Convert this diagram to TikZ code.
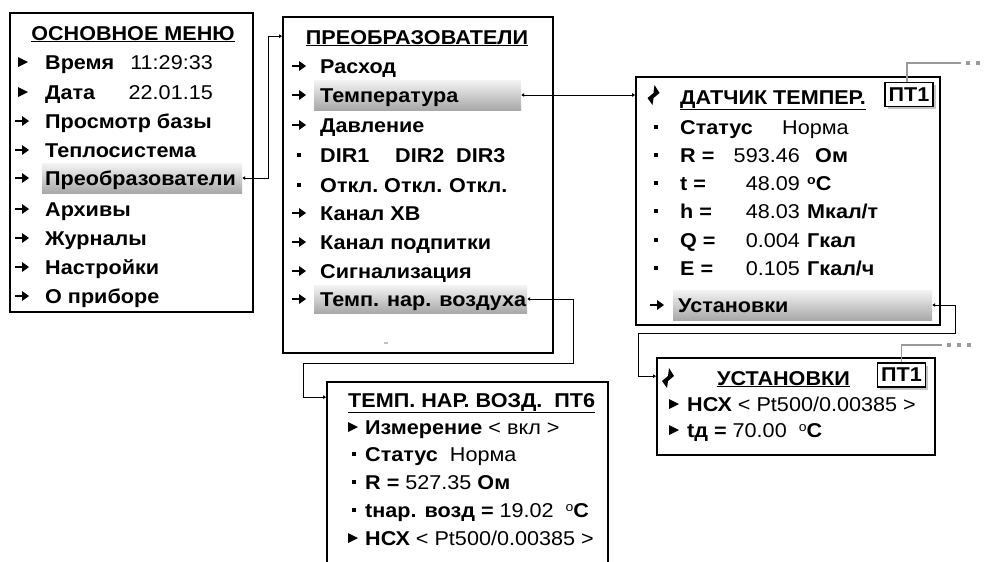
\documentclass[tikz,border=0pt]{standalone}
\usepackage{fontspec}
\setmainfont{Liberation Sans}[FakeStretch=1.08]
\usetikzlibrary{arrows.meta,positioning,shadows}
\definecolor{cGray}{HTML}{9A9A9A}
\definecolor{cHiTop}{HTML}{F4F4F4}
\definecolor{cHiBot}{HTML}{A8A8A8}

\newcommand{\degC}{\raisebox{0.28em}{\fontsize{13}{13}\selectfont o}\textbf{C}}

\begin{document}
\begin{tikzpicture}[
  x=1pt, y=-1pt,
  >=Stealth,
  font=\fontsize{20}{22}\selectfont,
  menubox/.style={draw, line width=1.7pt, fill=white, inner sep=0pt},
  hilite/.style={inner sep=0pt, top color=cHiTop, bottom color=cHiBot, draw=none},
  row/.style={anchor=base west, inner sep=0pt},
  brow/.style={row, font=\fontsize{20}{22}\selectfont\bfseries},
  vrow/.style={anchor=base east, inner sep=0pt},
  ttl/.style={anchor=base, inner sep=0pt, font=\fontsize{20}{22}\selectfont\bfseries},
  tagbox/.style={draw, line width=1.2pt, fill=white, inner sep=0pt,
                 minimum width=48pt, minimum height=24pt,
                 drop shadow={shadow xshift=2.5pt, shadow yshift=-2.5pt, fill=gray!45, opacity=1},
                 font=\fontsize{20}{22}\selectfont\bfseries},
  conn/.style={{Latex[length=3pt,width=4pt]}-{Latex[length=3pt,width=4pt]}, line width=0.8pt},
  gconn/.style={line width=1.6pt, color=cGray},
  tri/.pic={\fill (-4,-5) -- (6,0) -- (-4,5) -- cycle;},
  arw/.pic={\draw[line width=2pt] (-7,0) -- (1,0); \fill (0,-5) -- (7,0) -- (0,5) -- cycle;},
  sqb/.pic={\fill (-2,-2) rectangle (2,2);},
  ret/.pic={\fill (1,-10) -- (6,-2) -- (0,3) -- (-1,10) -- (-6,3) -- (0,-2) -- cycle;},
]
\useasboundingbox (0,0) rectangle (986,562);
\clip (0,0) rectangle (986,562);

% ---- Boxes ----
\node[menubox, minimum width=243pt, minimum height=299pt] (mainmenu) at (131.5,162.5) {};
\node[menubox, minimum width=270pt, minimum height=336pt] (convbox) at (418,185) {};
\node[menubox, minimum width=304pt, minimum height=248pt] (sensbox) at (788,201) {};
\node[menubox, minimum width=281pt, minimum height=240pt] (airbox) at (467.5,502) {};
\node[menubox, minimum width=278pt, minimum height=97pt] (setbox) at (796,406.5) {};

% ---- Highlights ----
\node[hilite, minimum width=200pt, minimum height=30pt] (hlconv) at (142,178) {};
\node[hilite, minimum width=207pt, minimum height=30pt] (hltemp) at (417.5,95) {};
\node[hilite, minimum width=213pt, minimum height=28pt] (hlair) at (420.5,299) {};
\node[hilite, minimum width=259pt, minimum height=30pt] (hlset) at (802.5,305) {};

% ---- Main menu ----
\node[ttl] (mmtitle) at (133,40) {\underline{ОСНОВНОЕ МЕНЮ}};
\foreach \yc in {62,92} \pic at (22,\yc) {tri};
\foreach \yc in {121,150,178,209,238,267,296} \pic at (22,\yc) {arw};
\node[brow] (mmtime) at (45,69) {Время};
\node[vrow] (mmtimev) at (213,69) {11:29:33};
\node[brow] (mmdate) at (45,99) {Дата};
\node[vrow] (mmdatev) at (213,99) {22.01.15};
\foreach \yc/\txt [count=\i] in {121/Просмотр базы, 150/Теплосистема, 178/Преобразователи,
    209/Архивы, 238/Журналы, 267/Настройки, 296/О приборе}
  \node[brow] (mm\i) at (45,\yc+7) {\txt};

% ---- Converters ----
\node[ttl] (cvtitle) at (417,44) {\underline{ПРЕОБРАЗОВАТЕЛИ}};
\foreach \yc in {66,95,125,213,242,271,299} \pic at (299,\yc) {arw};
\foreach \yc in {155,185} \pic at (299,\yc) {sqb};
\foreach \yc/\txt [count=\i] in {66/Расход, 95/Температура, 125/Давление,
    213/Канал ХВ, 242/Канал подпитки, 271/Сигнализация, 299/Темп. нар. воздуха}
  \node[brow] (cv\i) at (320,\yc+7) {\txt};
\foreach \xc/\txt [count=\i] in {320/DIR1, 395/DIR2, 456/DIR3}
  \node[brow] (dir\i) at (\xc,162) {\txt};
\foreach \xc/\txt [count=\i] in {320/Откл., 384/Откл., 449/Откл.}
  \node[brow] (off\i) at (\xc,192) {\txt};
\fill[cGray!60] (384,342) rectangle (388,344);

% ---- Sensor ----
\pic at (653.5,95) {ret};
\node[brow] (sntitle) at (680,104) {\underline{ДАТЧИК ТЕМПЕР.}};
\node[tagbox] (sntag) at (909,94.5) {ПТ1};
\foreach \yc in {127,155,183,211,240,268} \pic at (656,\yc) {sqb};
\pic at (657,305) {arw};
\node[brow] (snstat) at (680,134) {Статус};
\node[row] (snstatv) at (782,134) {Норма};
\foreach \yc/\lbl/\val/\ux/\unit [count=\i] in {155/R =/593.46/815/Ом, 183/t =/48.09/807/\degC,
    211/h =/48.03/807/{Мкал/т}, 240/Q =/0.004/807/Гкал, 268/E =/0.105/807/{Гкал/ч}}
{
  \node[brow] (snl\i) at (680,\yc+7) {\lbl};
  \node[vrow] (snv\i) at (800,\yc+7) {\val};
  \node[brow] (snu\i) at (\ux,\yc+7) {\unit};
}
\node[brow] (snset) at (678,312) {Установки};

% ---- Outdoor air ----
\node[brow] (airtitle) at (348,407) {\underline{ТЕМП. НАР. ВОЗД.\ \ ПТ6}};
\foreach \yc in {427,538} \pic at (352,\yc) {tri};
\foreach \yc in {454,482,510} \pic at (354,\yc) {sqb};
\node[row] (air1) at (365,434) {\textbf{Измерение} < вкл >};
\node[row] (air2) at (365,461) {\textbf{Статус}\ \ Норма};
\node[row] (air3) at (365,489) {\textbf{R =} 527.35 \textbf{Ом}};
\node[row] (air4) at (365,517) {\textbf{tнар. возд =} 19.02\ \ \degC};
\node[row] (air5) at (365,545) {\textbf{НСХ} < Pt500/0.00385 >};

% ---- Settings ----
\pic at (668,378) {ret};
\node[brow] (sttitle) at (717,385) {\underline{УСТАНОВКИ}};
\node[tagbox] (sttag) at (901.5,375) {ПТ1};
\foreach \yc in {404,430} \pic at (673,\yc) {tri};
\node[row] (st1) at (687,411) {\textbf{НСХ} < Pt500/0.00385 >};
\node[row] (st2) at (687,437) {\textbf{tд =} 70.00\ \ \degC};

% ---- Connectors ----
\draw[conn] (hlconv.east) -- ++(26,0) |- ([yshift=-20pt]convbox.north west);
\draw[conn] (hltemp.east) -- (hltemp.east -| sensbox.west);
\draw[conn] (hlair.east) -- ++(46,0) |- ++(-270,64) |- ([yshift=-16pt]airbox.north west);
\draw[conn] (hlset.east) -- ++(23,0) |- ++(-317,28) |- ([yshift=-19pt]setbox.north west);

% ---- Tag links ----
\coordinate (snmore) at (961,63);
\coordinate (stmore) at (942,345);
\draw[gconn] (sntag.north) ++(-2,0) |- (snmore);
\draw[gconn] (sttag.north) |- (stmore);
\foreach \xc in {968,978} \fill[cGray] (\xc-2,61) rectangle (\xc+2,65);
\foreach \xc in {949,959,969} \fill[cGray] (\xc-2,343) rectangle (\xc+2,347);
\end{tikzpicture}
\end{document}
